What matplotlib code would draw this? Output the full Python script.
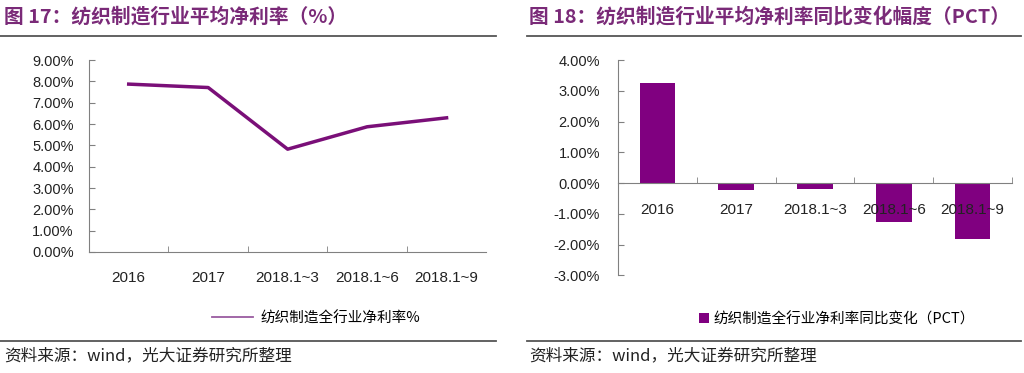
import matplotlib.pyplot as plt
import numpy as np
from matplotlib.ticker import FuncFormatter

plt.rcParams['font.family'] = ['Liberation Sans', 'Noto Sans CJK SC', 'DejaVu Sans']

categories = ['2016', '2017', '2018.1~3', '2018.1~6', '2018.1~9']
net_margin = [7.87, 7.71, 4.82, 5.87, 6.29]          # %
margin_change = [3.24, -0.22, -0.19, -1.25, -1.81]    # pct

title_color = '#7a2a78'
purple = '#800080'
grey = '#808080'
cjk = ['Noto Sans CJK SC', 'DejaVu Sans']

fig = plt.figure(figsize=(10.24, 3.73), dpi=100)
pct = FuncFormatter(lambda v, p: '%.2f%%' % v)
x = np.arange(len(categories))

## Left: net margin line
ax1 = fig.add_axes([0.0869, 0.3244, 0.388, 0.5147])
ax1.plot(x, net_margin, color='#7a0f78', lw=2.5)
ax1.set_xlim(-0.5, len(categories) - 0.5)
ax1.set_ylim(0, 9)
ax1.set_yticks(np.arange(0, 10, 1))
ax1.yaxis.set_major_formatter(pct)
ax1.set_xticks(x)
ax1.set_xticklabels(categories)
ax1.set_xticks(np.arange(0.5, len(categories) - 0.5, 1), minor=True)
ax1.tick_params(axis='x', which='major', length=0, pad=14, labelsize=11, colors='#222222')
ax1.tick_params(axis='x', which='minor', length=4, direction='in', color=grey)
ax1.tick_params(axis='y', length=4, direction='in', pad=11, color=grey, labelsize=10.5,
                labelcolor='#222222')
for s in ['top', 'right']:
    ax1.spines[s].set_visible(False)
for s in ['left', 'bottom']:
    ax1.spines[s].set_color(grey)
leg = ax1.legend(['纺织制造全行业净利率%'], loc='upper center', bbox_to_anchor=(0.572, -0.24),
                 frameon=False, prop={'family': cjk, 'size': 10.5}, handlelength=2.8,
                 handletextpad=0.5)
leg.get_lines()[0].set_linewidth(1.3)
leg.get_lines()[0].set_color('#9a5ca0')

## Right: yoy change bars
ax2 = fig.add_axes([0.6035, 0.2619, 0.3848, 0.577])
ax2.bar(x, margin_change, width=0.45, color=purple, label='纺织制造全行业净利率同比变化（PCT）')
ax2.set_xlim(-0.5, len(categories) - 0.5)
ax2.set_ylim(-3, 4)
ax2.set_yticks(np.arange(-3, 5, 1))
ax2.yaxis.set_major_formatter(pct)
ax2.set_xticks(x)
ax2.set_xticklabels(categories)
ax2.set_xticks(np.arange(0.5, len(categories) + 0.5, 1), minor=True)
ax2.spines['bottom'].set_position(('data', 0))
ax2.tick_params(axis='x', which='major', length=0, pad=14, labelsize=11, colors='#222222')
ax2.tick_params(axis='x', which='minor', length=4, direction='in', color=grey)
ax2.tick_params(axis='y', length=4, direction='in', pad=13, color=grey, labelsize=10.5,
                labelcolor='#222222')
for s in ['top', 'right']:
    ax2.spines[s].set_visible(False)
for s in ['left', 'bottom']:
    ax2.spines[s].set_color(grey)
ax2.legend(loc='upper center', bbox_to_anchor=(0.555, -0.11), frameon=False,
           prop={'family': cjk, 'size': 10.5}, handlelength=0.7, handleheight=0.7,
           handletextpad=0.3)

## Titles, rules and source notes
fig.text(0.004, 0.955, '图 17：纺织制造行业平均净利率（%）', family=cjk, fontsize=14.2,
         fontweight='bold', color=title_color, va='center')
fig.text(0.517, 0.955, '图 18：纺织制造行业平均净利率同比变化幅度（PCT）', family=cjk, fontsize=14.2,
         fontweight='bold', color=title_color, va='center')
for x0, x1 in [(0.0, 0.484), (0.515, 0.997)]:
    fig.add_artist(plt.Line2D([x0, x1], [0.903, 0.903], color='#555555', lw=1.3))
    fig.add_artist(plt.Line2D([x0, x1], [0.085, 0.085], color='#555555', lw=1.3))
fig.text(0.004, 0.045, '资料来源：wind，光大证券研究所整理', family=cjk, fontsize=12,
         color='#222222', va='center')
fig.text(0.517, 0.045, '资料来源：wind，光大证券研究所整理', family=cjk, fontsize=12,
         color='#222222', va='center')

fig.savefig('out.png', dpi=100)
